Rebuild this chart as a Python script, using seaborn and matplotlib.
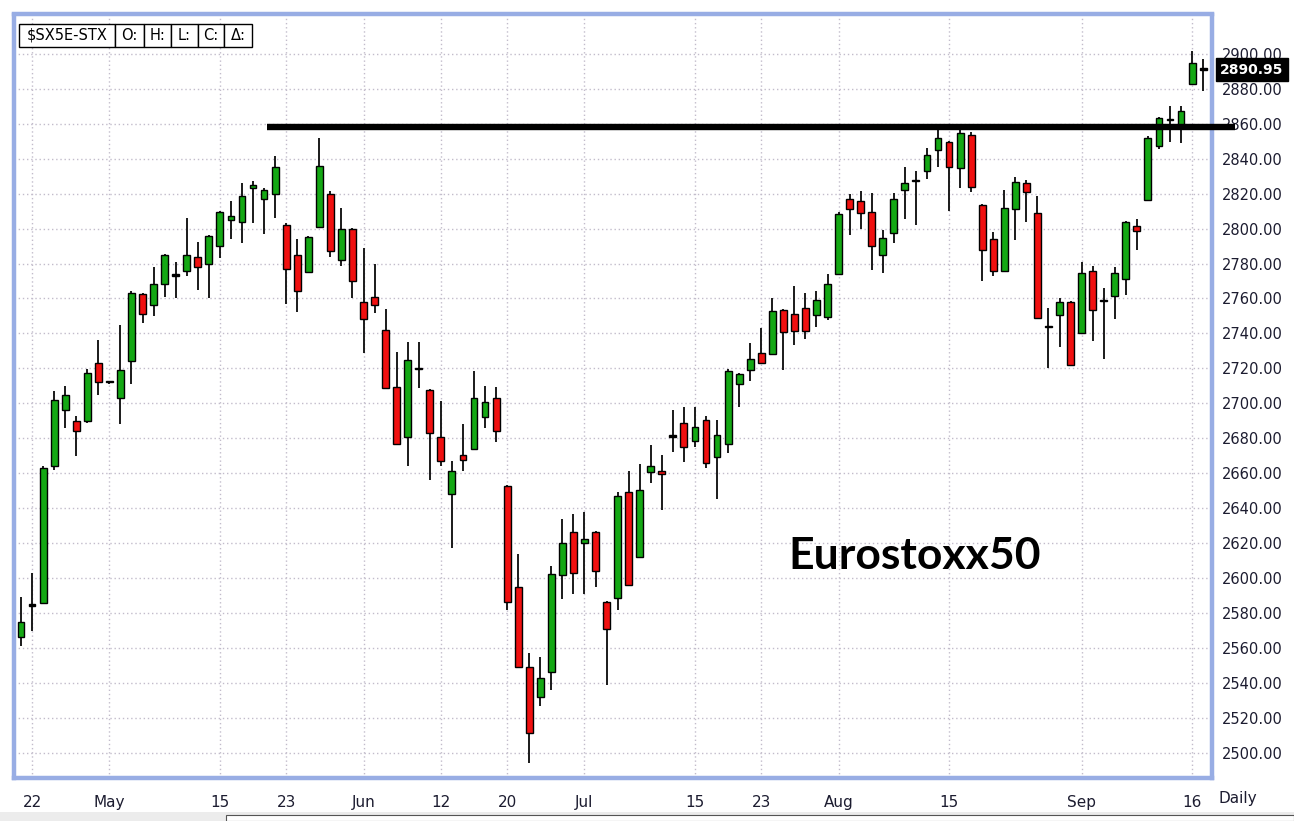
import numpy as np
import matplotlib
matplotlib.use("Agg")
import matplotlib.pyplot as plt
import seaborn as sns
from matplotlib.patches import Rectangle

# ---------------- data ----------------
opens = [2566, 2584, 2585.5, 2664, 2696, 2690, 2690, 2723, 2712, 2703,
         2724, 2762.5, 2756, 2768, 2773, 2776, 2784, 2780, 2790, 2805,
         2804, 2823, 2817, 2820, 2802, 2785, 2775, 2801, 2819.5, 2782,
         2800, 2758, 2761, 2742, 2709.5, 2681, 2719.5, 2707.5, 2681, 2648,
         2670.5, 2674, 2692, 2703, 2652.5, 2595, 2549, 2532, 2546, 2602,
         2626.5, 2620, 2626.5, 2586.5, 2588.5, 2649, 2612, 2660.5, 2661.5, 2681,
         2688.5, 2678.5, 2690.5, 2669.5, 2677, 2711, 2719, 2729, 2728, 2753.5,
         2751, 2754.5, 2750.5, 2749.5, 2774, 2817, 2816, 2809.5, 2785, 2797.5,
         2822, 2827, 2833, 2845, 2849.5, 2834.5, 2853.5, 2813.5, 2794, 2776,
         2811, 2826, 2809, 2743.5, 2750.5, 2758, 2740.5, 2775.5, 2758.5, 2761.5,
         2771, 2801.5, 2816.5, 2847, 2862, 2858, 2882.5, 2891]
highs = [2589, 2603, 2664, 2707, 2710, 2693, 2719.5, 2736, 2713, 2745,
         2764.5, 2763, 2778, 2785.5, 2781, 2806, 2792.5, 2796.5, 2810, 2816,
         2826, 2827, 2823, 2841.5, 2803, 2794, 2795.5, 2852, 2821.5, 2812,
         2800.5, 2789, 2780, 2754, 2729.5, 2735, 2735, 2708, 2701.5, 2667,
         2688, 2718.5, 2710, 2709.5, 2653, 2614, 2557, 2555, 2607, 2634,
         2636.5, 2638, 2627, 2587, 2649, 2661, 2665, 2676, 2670.5, 2696,
         2698, 2698, 2692.5, 2690.5, 2719.5, 2717.5, 2734.5, 2743, 2760, 2754,
         2767, 2763, 2764.5, 2774, 2809.5, 2819.5, 2821.5, 2820.5, 2799, 2820.5,
         2835, 2833, 2846, 2857, 2850, 2856.5, 2855, 2814, 2798, 2822,
         2829.5, 2828, 2818.5, 2754.5, 2760, 2758.5, 2781, 2778.5, 2766, 2778,
         2804.5, 2805.5, 2853, 2864, 2870, 2870, 2901.5, 2897]
lows = [2561, 2570, 2585, 2662, 2686, 2670, 2689, 2705, 2711, 2688,
        2711, 2746, 2750, 2761, 2760, 2773, 2765, 2760, 2783, 2794,
        2792, 2803, 2797, 2806, 2757, 2752, 2774.5, 2800.5, 2784, 2778.5,
        2760.5, 2729, 2751.5, 2708.5, 2676, 2664, 2709, 2656, 2664, 2617,
        2661, 2673.5, 2686, 2678, 2581.5, 2548.5, 2494, 2527, 2536, 2588,
        2591, 2591, 2595, 2539, 2582, 2595.5, 2611.5, 2654.5, 2639, 2672,
        2666.5, 2675, 2663, 2645.5, 2671.5, 2698, 2713, 2722.5, 2727.5, 2719,
        2733.5, 2737, 2743.5, 2747.5, 2773.5, 2796.5, 2800, 2776.5, 2774.5, 2792,
        2805.5, 2802, 2828.5, 2835.5, 2810, 2823.5, 2821, 2770, 2773, 2775.5,
        2793.5, 2804, 2748.5, 2720.5, 2732.5, 2721.5, 2740, 2735.5, 2725.5, 2748.5,
        2762, 2787.5, 2815.5, 2845.5, 2849.5, 2849, 2882, 2878.5]
closes = [2575, 2584, 2663, 2702, 2705, 2684, 2717.5, 2712, 2712, 2719,
          2763, 2751, 2768.5, 2785, 2773, 2785, 2778, 2796, 2809.5, 2807,
          2818.5, 2825, 2822, 2835, 2777, 2764, 2795, 2836, 2787, 2800,
          2770, 2748, 2756, 2709, 2677, 2725, 2719.5, 2683, 2667, 2661,
          2667.5, 2703, 2701, 2684, 2586.5, 2549, 2511.5, 2543, 2602.5, 2620,
          2603, 2622.5, 2604, 2571, 2647, 2596, 2650.5, 2664, 2659.5, 2681,
          2675, 2686.5, 2666, 2682, 2718.5, 2716.5, 2725.5, 2723, 2753, 2741,
          2741.5, 2741.5, 2759, 2768.5, 2808.5, 2811, 2809, 2790, 2794.5, 2817,
          2826, 2827, 2842, 2852, 2835.5, 2854.5, 2824, 2787.5, 2775.5, 2811.5,
          2826.5, 2821, 2749, 2743.5, 2758, 2722, 2774.5, 2753.5, 2758.5, 2774.5,
          2803.5, 2798.5, 2852, 2863.5, 2862, 2867.5, 2894.5, 2890.95]

date_tick_idx = [1, 8, 18, 24, 31, 38, 44, 51, 61, 67, 74, 84, 96, 106]
date_tick_labels = ["22", "May", "15", "23", "Jun", "12", "20", "Jul",
                    "15", "23", "Aug", "15", "Sep", "16"]
price_ticks = list(range(2500, 2901, 20))

resistance_level = 2858.1
resistance_start = 22.24
resistance_end = 109.9

symbol = "$SX5E-STX"
header_cells = ["O:", "H:", "L:", "C:", "\u0394:"]
title_text = "Eurostoxx50"

# ---------------- figure ----------------
sns.set_style("white")
plt.rcParams["font.family"] = ["DejaVu Sans"]

W, H = 1294, 821
fig = plt.figure(figsize=(W / 100, H / 100), dpi=100)
fig.patch.set_facecolor("white")


def fx(px):
    return px / W


def fy(py):
    return 1 - py / H


ax = fig.add_axes([fx(13.5), fy(778), fx(1212) - fx(13.5), fy(14.5) - fy(778)])
ax.set_facecolor("white")

o = np.array(opens, dtype=float)
h = np.array(highs, dtype=float)
l = np.array(lows, dtype=float)
c = np.array(closes, dtype=float)
x = np.arange(len(o))

up_color = "#14a814"
dn_color = "#f01010"
colors = []
for oo, cc in zip(o, c):
    if abs(cc - oo) < 0.2:
        colors.append("black")
    elif cc > oo:
        colors.append(up_color)
    else:
        colors.append(dn_color)

ax.vlines(x, l, h, color="#1a1a1a", lw=1.4, zorder=3)
body_h = np.maximum(np.abs(c - o), 0.9)
body_b = np.minimum(o, c)
ax.bar(x, body_h, bottom=body_b, width=0.62, color=colors,
       edgecolor="black", linewidth=1.0, zorder=4)

ax.set_xlim(-0.68, 107.8)
ax.set_ylim(2485.6, 2922.5)

ax.yaxis.tick_right()
ax.set_yticks(price_ticks)
ax.set_yticklabels([f"{v:.2f}" for v in price_ticks])
ax.tick_params(axis="y", length=0, pad=7, labelsize=10.5, colors="#1c1c30")
ax.set_xticks(date_tick_idx)
ax.set_xticklabels(date_tick_labels)
ax.tick_params(axis="x", length=0, pad=12, labelsize=11, colors="#1c1c30")

ax.grid(True, linestyle=(0, (1, 2)), color="#c2bccb", lw=1.0, zorder=0)
ax.set_axisbelow(True)
for s in ax.spines.values():
    s.set_color("#98ade4")
    s.set_linewidth(3.2)

# resistance line
ax.plot([resistance_start, resistance_end], [resistance_level] * 2,
        color="black", lw=4.6, solid_capstyle="butt", clip_on=False, zorder=6)

# big title text
ax.text(0.752, 0.291, title_text, transform=ax.transAxes, fontsize=32,
        fontweight="bold", family=["Lato", "DejaVu Sans"],
        ha="center", va="center", color="black", zorder=7)

# last price box
ax.annotate(f"{closes[-1]:.2f}", xy=(1.0, closes[-1]),
            xycoords=("axes fraction", "data"),
            xytext=(6, 0), textcoords="offset points",
            ha="left", va="center", color="white", fontsize=10,
            fontweight="bold", annotation_clip=False, zorder=10,
            bbox=dict(boxstyle="square,pad=0.3", fc="black", ec="black"))

# header cells (top-left)
edges = [19, 115, 144, 171, 198, 224, 252]
cells = [symbol] + header_cells
for i, txt in enumerate(cells):
    x0, x1 = edges[i], edges[i + 1]
    fig.add_artist(Rectangle((fx(x0), fy(47)), fx(x1) - fx(x0), fy(24) - fy(47),
                             transform=fig.transFigure, fc="white",
                             ec="black", lw=1.0, zorder=20))
    fig.text(fx((x0 + x1) / 2), fy(35.5), txt, ha="center", va="center",
             fontsize=10.5, color="black", zorder=21)

# "Daily" label
fig.text(fx(1219), fy(798), "Daily", ha="left", va="center",
         fontsize=11, color="#1c1c30")

# bottom scroll strip
fig.add_artist(Rectangle((0, 0), 1, fy(812), transform=fig.transFigure,
                         fc="#ececec", ec="none", zorder=1))
fig.add_artist(Rectangle((fx(226), 0), fx(1294) - fx(226), fy(815),
                         transform=fig.transFigure, fc="white",
                         ec="#555555", lw=0.8, zorder=2))

fig.savefig("out.png", dpi=100)
